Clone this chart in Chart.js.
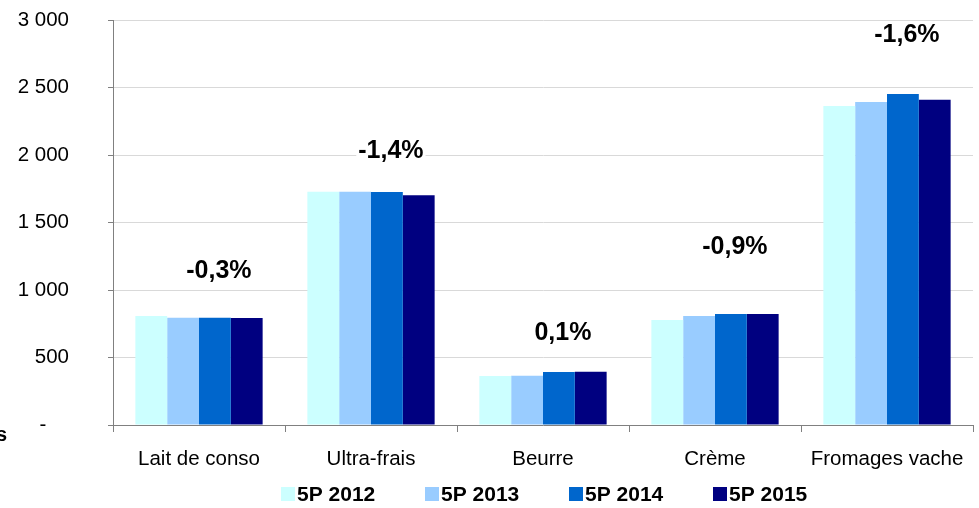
<!DOCTYPE html>
<html>
<head>
<meta charset="utf-8">
<script src="https://cdn.jsdelivr.net/npm/chart.js@4/dist/chart.umd.min.js"></script>
<style>
  html, body { margin: 0; padding: 0; background: #ffffff; }
  #wrap { width: 979px; height: 508px; position: relative; }
</style>
</head>
<body>
<div id="wrap"><canvas id="c" width="979" height="508"></canvas></div>
<script>
// Volumes by product family, 5P panel, 2012-2015
const categories = ['Lait de conso', 'Ultra-frais', 'Beurre', 'Crème', 'Fromages vache'];
const seriesNames = ['5P 2012', '5P 2013', '5P 2014', '5P 2015'];
const values2012 = [808, 1727, 363, 778, 2363];
const values2013 = [795, 1727, 364, 807, 2393];
const values2014 = [795, 1726, 393, 822, 2452];
const values2015 = [793, 1702, 394, 822, 2410];

// Change 2015 vs 2014, shown above each group, and the axis level it sits at
const changeLabels = ['-0,3%', '-1,4%', '0,1%', '-0,9%', '-1,6%'];
const changeLevels = [1141, 2030, 681, 1319, 2889];

const yTickValues = [0, 500, 1000, 1500, 2000, 2500, 3000];

const seriesColors = ['#CCFFFF', '#99CCFF', '#0066CC', '#000080'];
const FONT = '"Liberation Sans", Arial, Helvetica, sans-serif';

function formatThousands(v) {
  if (v === 0) return '-    ';
  return String(v).replace(/\B(?=(\d{3})+(?!\d))/g, ' ');
}

// Percent-change labels above the groups
const changeLabelPlugin = {
  id: 'changeLabels',
  afterDatasetsDraw(chart) {
    const { ctx, scales: { y } } = chart;
    const meta = chart.getDatasetMeta(2);
    ctx.save();
    ctx.font = 'bold 25px ' + FONT;
    ctx.textAlign = 'center';
    ctx.textBaseline = 'middle';
    changeLabels.forEach((txt, i) => {
      const px = meta.data[i].x + 4;
      const py = y.getPixelForValue(changeLevels[i]);
      const w = ctx.measureText(txt).width;
      ctx.fillStyle = '#ffffff';
      ctx.fillRect(px - w / 2 - 2, py - 11, w + 4, 22);
      ctx.fillStyle = '#000000';
      ctx.fillText(txt, px, py);
    });
    ctx.restore();
  }
};

// Legend row under the category labels, plus the clipped title fragment at lower left
const legendRowPlugin = {
  id: 'legendRow',
  afterDraw(chart) {
    const { ctx } = chart;
    const startX = 281, step = 144, cy = 494, box = 14;
    ctx.save();
    ctx.font = 'bold 21px ' + FONT;
    ctx.textAlign = 'left';
    ctx.textBaseline = 'middle';
    chart.data.datasets.forEach((ds, i) => {
      const x = startX + i * step;
      ctx.fillStyle = ds.backgroundColor;
      ctx.fillRect(x, cy - box / 2, box, box);
      ctx.fillStyle = '#000000';
      ctx.fillText(ds.label, x + box + 2, cy + 1);
    });
    ctx.font = 'bold 20px ' + FONT;
    ctx.textAlign = 'right';
    ctx.fillText('s', 7, 435);
    ctx.restore();
  }
};

const datasets = [values2012, values2013, values2014, values2015].map((vals, i) => ({
  label: seriesNames[i],
  data: vals,
  backgroundColor: seriesColors[i],
  borderWidth: 0,
  categoryPercentage: 0.74,
  barPercentage: 1.0
}));

new Chart(document.getElementById('c'), {
  type: 'bar',
  data: { labels: categories, datasets },
  plugins: [changeLabelPlugin, legendRowPlugin],
  options: {
    responsive: false,
    devicePixelRatio: 1,
    animation: false,
    layout: { padding: { left: 0, right: 6, top: 20, bottom: 0 } },
    plugins: {
      legend: { display: false },
      tooltip: { enabled: false }
    },
    scales: {
      x: {
        grid: {
          display: true,
          drawOnChartArea: false,
          offset: true,
          tickLength: 7,
          color: '#808080',
          tickColor: '#808080'
        },
        border: { color: '#808080', width: 1 },
        ticks: {
          color: '#000000',
          padding: 15,
          maxRotation: 0,
          autoSkip: false,
          font: { family: FONT, size: 20.5 }
        },
        afterFit(scale) { scale.height = 83; }
      },
      y: {
        min: 0,
        max: 3000,
        afterBuildTicks(scale) { scale.ticks = yTickValues.map(v => ({ value: v })); },
        grid: {
          color: '#d9d9d9',
          tickColor: '#808080',
          tickLength: 5
        },
        border: { color: '#808080', width: 1 },
        ticks: {
          color: '#000000',
          padding: 39,
          font: { family: FONT, size: 20.5 },
          callback: (v) => formatThousands(v)
        },
        afterFit(scale) {
          scale.width = 113;
          scale.paddingTop = 0;
          scale.paddingBottom = 0;
        }
      }
    }
  }
});
</script>
</body>
</html>
